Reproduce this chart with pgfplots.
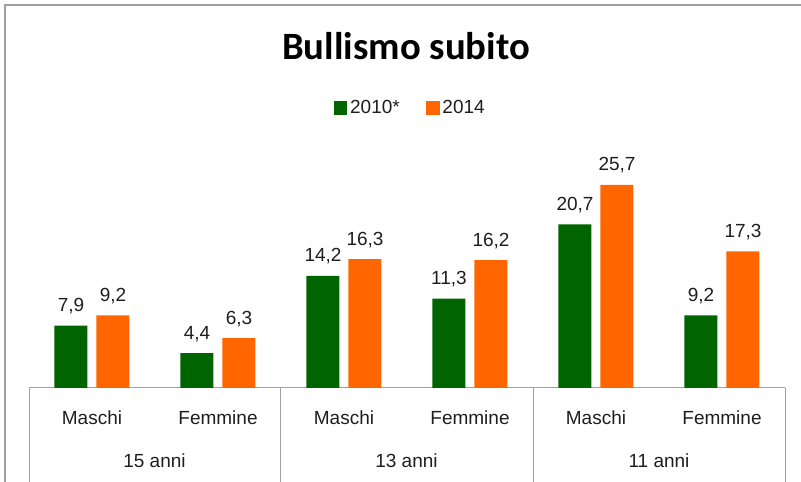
\documentclass[border=0pt]{standalone}
\usepackage{pgfplots}
\pgfplotsset{compat=1.18}
\usepackage{fontspec}
\setmainfont{Liberation Sans}
\newfontfamily\titlefont{Carlito}
\definecolor{verde}{RGB}{0,100,0}
\definecolor{arancio}{RGB}{255,102,0}
\definecolor{grigio}{RGB}{160,160,160}
\definecolor{ink}{RGB}{30,30,30}
\newcommand\lab{\fontsize{14.25}{17}\selectfont}

\begin{document}
\begin{tikzpicture}
\begin{axis}[scale only axis, width=567pt, height=177.75pt,
  ybar=6.75pt, bar width=24.75pt, xmin=-0.5, xmax=5.5, ymin=0, ymax=30, enlargelimits=false, clip=false,
  axis x line*=bottom, axis y line=none, x axis line style={-, grigio, line width=0.75pt}, major tick length=0,
  xtick={0,...,5}, xticklabels={Maschi,Femmine,Maschi,Femmine,Maschi,Femmine},
  xticklabel style={anchor=base, yshift=-27.75pt, font=\lab, text=ink, inner sep=0},
  /pgf/number format/assume math mode=true,
  nodes near coords={\pgfmathprintnumber[fixed,fixed zerofill,precision=1,use comma]{\pgfplotspointmeta}},
  every node near coord/.append style={font=\lab, text=ink, anchor=base, yshift=10.5pt, inner sep=0},
  legend style={at={(axis description cs:0.505,1.181)}, anchor=center, draw=none, legend columns=2, font=\lab, text=ink,
    /tikz/every even column/.append style={column sep=18pt}},
  legend image code/.code={\fill[#1] (0pt,-5pt) rectangle (10pt,5pt);},
]
\addplot[fill=verde, draw=none] coordinates {(0,7.9) (1,4.4) (2,14.2) (3,11.3) (4,20.7) (5,9.2)};
\addplot[fill=arancio, draw=none] coordinates {(0,9.2) (1,6.3) (2,16.3) (3,16.2) (4,25.7) (5,17.3)};
\legend{2010*,2014}
\coordinate (O) at (axis cs:-0.5,0);
\end{axis}
\pgfresetboundingbox
\begin{scope}[shift={(O)}, x=0.75pt, y=0.75pt]
\useasboundingbox (-29,-94) rectangle (772,388);
\draw[grigio, line width=1.5pt] (-24,-94) -- (-24,383) -- (772,383);
\node[font=\titlefont\bfseries\fontsize{29}{34}\selectfont, anchor=base, text=black, inner sep=0] at (377,328) {Bullismo subito};
\foreach \sx in {0,251,504,756} \draw[grigio, line width=0.75pt] (\sx,0) -- (\sx,-94);
\node[font=\lab, text=ink, anchor=base, inner sep=0] at (125.5,-80) {15 anni};
\node[font=\lab, text=ink, anchor=base, inner sep=0] at (377.5,-80) {13 anni};
\node[font=\lab, text=ink, anchor=base, inner sep=0] at (630,-80) {11 anni};
\end{scope}
\end{tikzpicture}
\end{document}
